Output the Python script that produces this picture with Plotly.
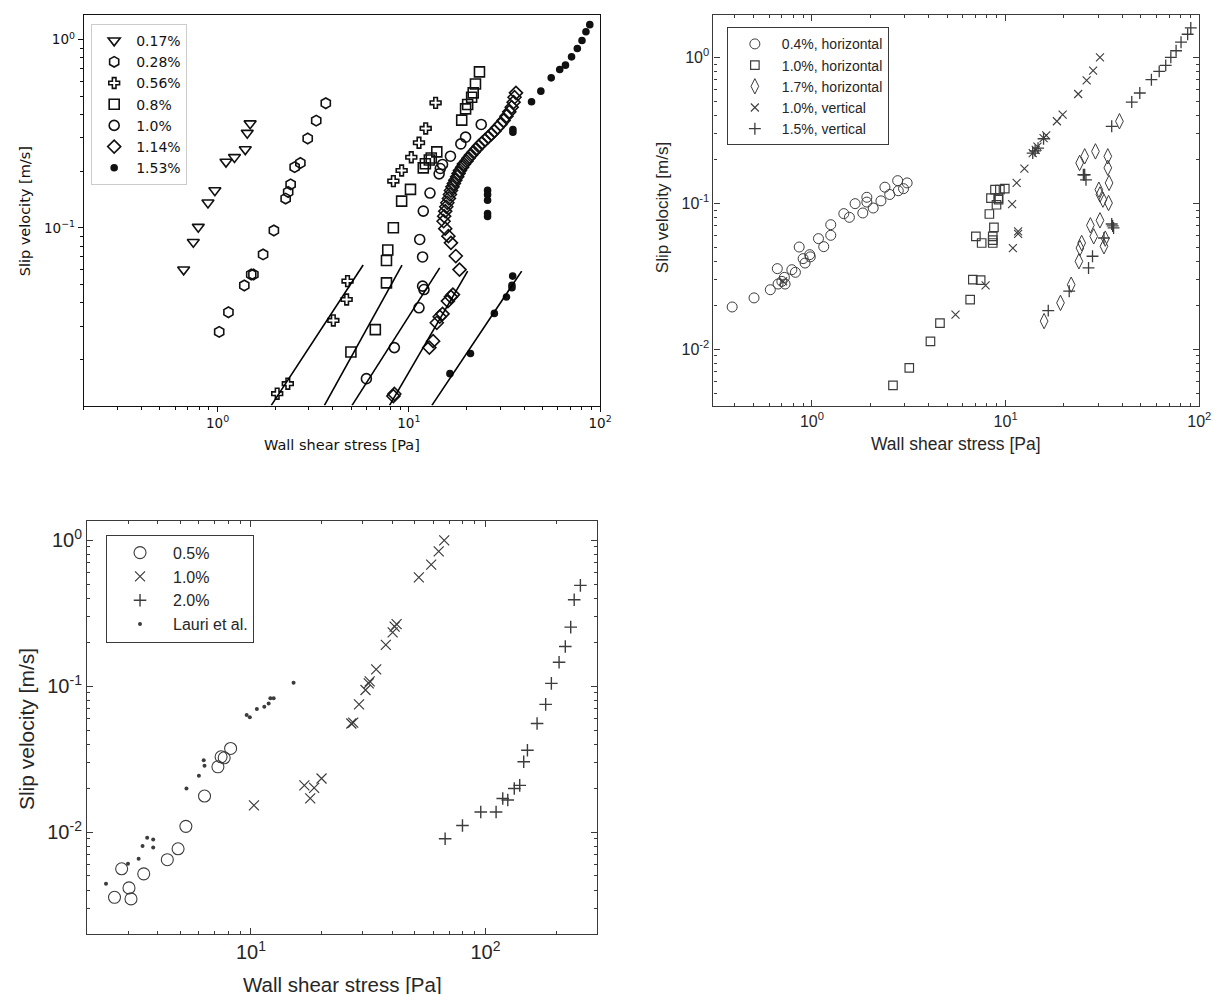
import math
import plotly.graph_objects as go

# ---------------- Panel 1 data (top-left) ----------------
p1_labels = ["0.17%", "0.28%", "0.56%", "0.8%", "1.0%", "1.14%", "1.53%"]

p1_x_017 = [0.665, 0.747, 0.793, 0.891, 0.968, 1.107, 1.226, 1.396, 1.43, 1.48]
p1_y_017 = [0.060, 0.084, 0.101, 0.136, 0.158, 0.224, 0.237, 0.261, 0.319, 0.358]

p1_x_028 = [1.02, 1.14, 1.38, 1.50, 1.54, 1.73, 1.97, 2.27, 2.34, 2.41, 2.53, 2.71, 2.96, 3.28, 3.68]
p1_y_028 = [0.028, 0.0356, 0.0494, 0.0565, 0.0565, 0.0722, 0.0968, 0.143, 0.155, 0.170, 0.210, 0.221, 0.298, 0.371, 0.459]

p1_x_056 = [2.05, 2.33, 4.03, 4.73, 4.78, 8.3, 9.17, 10.3, 11.3, 12.25, 13.8]
p1_y_056 = [0.01315, 0.01486, 0.0322, 0.0416, 0.0521, 0.177, 0.2015, 0.237, 0.283, 0.337, 0.461]

p1_x_08 = [4.98, 6.68, 7.64, 7.64, 7.76, 8.3, 9.17, 10.2, 11.9, 12.2, 12.8, 13.1, 14.0,
           18.9, 19.8, 20.3, 21.3, 21.7, 22.3, 23.4]
p1_y_08 = [0.0219, 0.0288, 0.051, 0.067, 0.0762, 0.100, 0.1386, 0.160, 0.208, 0.219, 0.229, 0.235, 0.253,
           0.373, 0.428, 0.452, 0.494, 0.521, 0.581, 0.673]

p1_x_10 = [6.0, 8.4, 11.3, 12.0, 11.8, 11.8, 11.4, 11.9, 12.9, 14.4, 14.6, 15.0, 16.5, 18.7, 19.8, 23.9]
p1_y_10 = [0.0158, 0.0231, 0.0376, 0.047, 0.049, 0.070, 0.0867, 0.1227, 0.153, 0.1935, 0.2065, 0.217, 0.240, 0.279, 0.303, 0.354]

p1_x_114 = [8.3, 8.4, 12.8, 13.4, 14.0, 14.5, 15.0, 16.0, 16.6, 17.0, 18.4, 17.6, 16.6, 16.1, 15.5,
            15.2, 15.3, 15.5, 15.7, 15.9, 16.2, 16.4, 16.6, 16.9, 17.2, 17.5, 17.9, 18.2, 18.5, 19.0,
            19.4, 20.0, 20.5, 21.1, 21.8, 22.5, 23.2, 24.1, 25.0, 26.0, 27.0, 28.0, 29.0, 30.1, 31.3,
            32.4, 33.5, 34.5, 35.3, 35.7, 36.3]
p1_y_114 = [0.01277, 0.0131, 0.0231, 0.025, 0.0313, 0.0337, 0.0349, 0.0408, 0.043, 0.0442, 0.060, 0.0708, 0.0832, 0.0903, 0.099,
            0.1084, 0.1153, 0.1226, 0.1293, 0.1358, 0.1432, 0.1503, 0.1578, 0.1651, 0.1719, 0.1791, 0.1866, 0.1943, 0.2015, 0.210,
            0.218, 0.226, 0.2344, 0.243, 0.2522, 0.2616, 0.2714, 0.2815, 0.292, 0.303, 0.3144, 0.326, 0.340, 0.354, 0.3715,
            0.3917, 0.413, 0.4375, 0.4648, 0.494, 0.521]

p1_x_153 = [16.4, 21.0, 28.0, 32.4, 34.6, 34.6, 34.9, 25.8, 25.8, 25.8, 25.8, 25.8, 35.0, 35.0,
            43.8, 49.0, 55.5, 61.5, 65.9, 70.9, 76.0, 80.4, 84.3, 88.3]
p1_y_153 = [0.0168, 0.0215, 0.0351, 0.0429, 0.048, 0.0495, 0.0554, 0.158, 0.150, 0.140, 0.119, 0.115, 0.333, 0.322,
            0.467, 0.532, 0.626, 0.693, 0.731, 0.809, 0.896, 0.988, 1.10, 1.20]

# fitted power-law lines (start / end points)
fit_x0 = [1.91, 3.62, 5.05, 7.93, 13.2]
fit_x1 = [5.77, 9.21, 14.5, 20.3, 38.9]
fit_y0 = [0.0114, 0.0114, 0.0114, 0.0114, 0.0114]
fit_y1 = [0.0634, 0.0634, 0.0613, 0.0589, 0.0589]

# ---------------- Panel 2 data (top-right) ----------------
p2_labels = ["0.4%, horizontal", "1.0%, horizontal", "1.7%, horizontal", "1.0%, vertical", "1.5%, vertical"]

p2_x_04h = [0.387, 0.502, 0.609, 0.662, 0.668, 0.699, 0.726, 0.72, 0.787, 0.821, 0.859, 0.900, 0.921, 0.973, 0.98,
            1.08, 1.15, 1.25, 1.25, 1.46, 1.56, 1.67, 1.83, 1.92, 1.92, 2.07, 2.27, 2.38, 2.52, 2.77, 2.79, 2.97, 3.10]
p2_y_04h = [0.0195, 0.0225, 0.0256, 0.0357, 0.028, 0.0292, 0.028, 0.0311, 0.0351, 0.0337, 0.0502, 0.0418, 0.039, 0.0445, 0.043,
            0.0573, 0.0505, 0.0714, 0.0604, 0.085, 0.0802, 0.0995, 0.0859, 0.110, 0.102, 0.0929, 0.104, 0.129, 0.115, 0.143, 0.122, 0.126, 0.138]

p2_x_10h = [2.62, 3.18, 4.09, 4.58, 6.56, 6.77, 7.43, 7.02, 7.52, 8.58, 8.58, 8.58, 8.7, 8.24, 8.97, 8.4, 8.81, 9.16, 9.34, 9.9, 9.2]
p2_y_10h = [0.00567, 0.00745, 0.01135, 0.0151, 0.0219, 0.030, 0.0298, 0.0594, 0.0535, 0.0594, 0.056, 0.0535, 0.0685, 0.0845, 0.0978, 0.1087, 0.124, 0.1087, 0.124, 0.126, 0.106]

p2_x_17h = [15.8, 19.2, 21.8, 23.9, 24.2, 24.7, 24.1, 25.6, 27.4, 28.5, 29.1, 30.3, 30.7, 30.7, 31.8, 32.2, 32.7, 33.7, 33.7, 34.2, 34.0, 38.7]
p2_y_17h = [0.0156, 0.0208, 0.0277, 0.0401, 0.0494, 0.0535, 0.189, 0.210, 0.0707, 0.0594, 0.227, 0.124, 0.115, 0.0765, 0.106, 0.0508, 0.0573, 0.210, 0.175, 0.138, 0.1005, 0.365]

p2_x_10v = [0.709, 5.51, 7.88, 10.9, 10.8, 11.6, 11.6, 11.4, 12.5, 13.8, 14.3, 14.6, 15.7, 16.2, 18.4, 19.7, 23.7, 26.2, 28.3, 30.7]
p2_y_10v = [0.0292, 0.0173, 0.0274, 0.0494, 0.0989, 0.0643, 0.0617, 0.138, 0.1726, 0.221, 0.232, 0.245, 0.280, 0.292, 0.365, 0.405, 0.561, 0.695, 0.811, 1.0]

p2_x_15v = [13.8, 14.2, 14.7, 15.7, 16.6, 21.3, 26.8, 28.1, 32.2, 25.6, 26.0, 25.2, 35.3, 36.1, 35.7, 35.3,
            44.8, 49.3, 56.6, 62.1, 67.1, 71.3, 75.9, 80.5, 87.1, 90.4]
p2_y_15v = [0.221, 0.229, 0.239, 0.277, 0.0184, 0.0250, 0.0361, 0.0434, 0.0579, 0.157, 0.145, 0.157, 0.0722, 0.0678, 0.070, 0.337,
            0.494, 0.570, 0.703, 0.802, 0.881, 1.0, 1.11, 1.27, 1.44, 1.59]

# ---------------- Panel 3 data (bottom-left) ----------------
p3_labels = ["0.5%", "1.0%", "2.0%", "Lauri et al."]

p3_x_05 = [2.62, 2.81, 3.02, 3.08, 3.49, 4.40, 4.89, 5.28, 6.34, 7.23, 7.46, 7.69, 8.19]
p3_y_05 = [0.00357, 0.0056, 0.00414, 0.00348, 0.00517, 0.00646, 0.00768, 0.01094, 0.01766, 0.0280, 0.0328, 0.0323, 0.0374]

p3_x_10 = [10.3, 16.9, 17.9, 18.6, 20.0, 26.8, 27.3, 28.9, 30.8, 31.8, 32.1, 34.2, 37.6, 40.2, 41.0, 41.8, 52.0, 58.7, 63.2, 66.7]
p3_y_10 = [0.01525, 0.0209, 0.0170, 0.0201, 0.0233, 0.0555, 0.0563, 0.0750, 0.0941, 0.1045, 0.108, 0.1305, 0.192, 0.234, 0.256, 0.266, 0.557, 0.681, 0.840, 1.0]

p3_x_20 = [67.3, 79.8, 95.5, 111, 118.5, 124.5, 132.7, 140, 145.6, 151, 166, 180.6, 191, 206, 219, 231, 239, 254]
p3_y_20 = [0.0090, 0.0111, 0.01371, 0.01371, 0.0170, 0.0166, 0.0199, 0.0209, 0.0303, 0.0364, 0.0555, 0.0750, 0.1045, 0.146, 0.187, 0.254, 0.391, 0.491]

p3_x_lauri = [2.41, 2.99, 3.32, 3.45, 3.61, 3.83, 3.83, 5.31, 6.00, 6.29, 6.34, 9.59, 9.89, 10.6, 11.4, 11.9, 12.1, 12.5, 15.2]
p3_y_lauri = [0.00442, 0.00606, 0.00656, 0.00802, 0.00915, 0.0089, 0.00782, 0.01986, 0.0243, 0.0311, 0.0285, 0.0634, 0.0613, 0.0697, 0.0723, 0.0762, 0.0825, 0.0825, 0.1057]

# tick labels
p1_xtickvals = [1, 10, 100]
p1_xticktext = ["10<sup>0</sup>", "10<sup>1</sup>", "10<sup>2</sup>"]
p1_ytickvals = [0.1, 1]
p1_yticktext = ["10<sup>\u22121</sup>", "10<sup>0</sup>"]
p2_xtickvals = [1, 10, 100]
p2_xticktext = ["10<sup>0</sup>", "10<sup>1</sup>", "10<sup>2</sup>"]
p2_ytickvals = [0.01, 0.1, 1]
p2_yticktext = ["10<sup>-2</sup>", "10<sup>-1</sup>", "10<sup>0</sup>"]
p3_xtickvals = [10, 100]
p3_xticktext = ["10<sup>1</sup>", "10<sup>2</sup>"]
p3_ytickvals = [0.01, 0.1, 1]
p3_yticktext = ["10<sup>-2</sup>", "10<sup>-1</sup>", "10<sup>0</sup>"]

# ---------------- figure ----------------
W, H = 1221, 994
fig = go.Figure()

def minor_vals(lo, hi):
    return [m * 10 ** e for e in range(lo, hi) for m in range(2, 10)]

K1 = "#111111"
p1_series = [
    (p1_x_017, p1_y_017, "triangle-down-open", 10.5),
    (p1_x_028, p1_y_028, "hexagon-open", 10.5),
    (p1_x_056, p1_y_056, "cross-open", 9),
    (p1_x_08, p1_y_08, "square-open", 10),
    (p1_x_10, p1_y_10, "circle-open", 10),
    (p1_x_114, p1_y_114, "diamond-open", 10),
    (p1_x_153, p1_y_153, "circle", 6),
]
for (xs, ys, sym, sz), lab in zip(p1_series, p1_labels):
    fig.add_trace(go.Scatter(x=xs, y=ys, mode="markers", name=lab, xaxis="x", yaxis="y", legend="legend",
                             marker=dict(symbol=sym, size=sz, color=K1, line=dict(color=K1, width=1.6))))
for a, b, c, d in zip(fit_x0, fit_x1, fit_y0, fit_y1):
    fig.add_trace(go.Scatter(x=[a, b], y=[c, d], mode="lines", showlegend=False, xaxis="x", yaxis="y",
                             line=dict(color="black", width=1.6)))

K2 = "#3c3c3c"
p2_series = [
    (p2_x_04h, p2_y_04h, "circle-open", 10, 1.0),
    (p2_x_10h, p2_y_10h, "square-open", 8.5, 1.2),
    (p2_x_17h, p2_y_17h, "diamond-tall-open", 11, 1.0),
    (p2_x_10v, p2_y_10v, "x-thin-open", 8, 1.1),
    (p2_x_15v, p2_y_15v, "cross-thin-open", 8.5, 1.3),
]
for (xs, ys, sym, sz, lw), lab in zip(p2_series, p2_labels):
    fig.add_trace(go.Scatter(x=xs, y=ys, mode="markers", name=lab, xaxis="x2", yaxis="y2", legend="legend2",
                             marker=dict(symbol=sym, size=sz, color=K2, line=dict(color=K2, width=lw))))

p3_series = [
    (p3_x_05, p3_y_05, "circle-open", 12, 1.1),
    (p3_x_10, p3_y_10, "x-thin-open", 10, 1.2),
    (p3_x_20, p3_y_20, "cross-thin-open", 9, 1.4),
    (p3_x_lauri, p3_y_lauri, "circle", 4, 0),
]
for (xs, ys, sym, sz, lw), lab in zip(p3_series, p3_labels):
    fig.add_trace(go.Scatter(x=xs, y=ys, mode="markers", name=lab, xaxis="x3", yaxis="y3", legend="legend3",
                             marker=dict(symbol=sym, size=sz, color=K2, line=dict(color=K2, width=lw))))

def px_dom(a, b):
    return [a / W, b / W]

def py_dom(top, bottom):
    return [1 - bottom / H, 1 - top / H]

mpl_font = dict(family="DejaVu Sans", size=13.5, color="#111111")
mat_font2 = dict(family="Liberation Sans, Arial", size=16, color="#262626")
mat_font3 = dict(family="Liberation Sans, Arial", size=20, color="#262626")

def mpl_axis(dom, rng, tv, tt, lo, hi, anchor):
    return dict(type="log", domain=dom, range=rng, anchor=anchor, showgrid=False, zeroline=False,
                showline=True, linecolor="#111111", linewidth=1.2, mirror=True,
                ticks="outside", ticklen=5, tickwidth=1.1, tickcolor="#111111",
                tickvals=tv, ticktext=tt, tickfont=mpl_font,
                minor=dict(tickvals=minor_vals(lo, hi), ticks="outside", ticklen=3, tickwidth=0.8, tickcolor="#111111"))

def mat_axis(dom, rng, tv, tt, lo, hi, anchor, font):
    return dict(type="log", domain=dom, range=rng, anchor=anchor, showgrid=False, zeroline=False,
                showline=True, linecolor="#3a3a3a", linewidth=1.1, mirror="ticks",
                ticks="inside", ticklen=6, tickwidth=1, tickcolor="#3a3a3a",
                tickvals=tv, ticktext=tt, tickfont=font,
                minor=dict(tickvals=minor_vals(lo, hi), ticks="inside", ticklen=3, tickwidth=0.8, tickcolor="#3a3a3a"))

fig.update_layout(
    width=W, height=H, margin=dict(l=0, r=0, t=0, b=0),
    paper_bgcolor="white", plot_bgcolor="white",
    xaxis=mpl_axis(px_dom(76.6, 598), [math.log10(0.2), 2], p1_xtickvals, p1_xticktext, -1, 2, "y"),
    yaxis=mpl_axis(py_dom(7, 397.5), [math.log10(0.01138), math.log10(1.35)], p1_ytickvals, p1_yticktext, -2, 1, "x"),
    xaxis2=mat_axis(px_dom(712.5, 1203.1), [math.log10(0.31), 2], p2_xtickvals, p2_xticktext, -1, 2, "y2", mat_font2),
    yaxis2=mat_axis(py_dom(6.7, 398.3), [math.log10(0.00407), math.log10(1.96)], p2_ytickvals, p2_yticktext, -3, 1, "x2", mat_font2),
    xaxis3=mat_axis(px_dom(79.8, 595.2), [math.log10(2), math.log10(300)], p3_xtickvals, p3_xticktext, 0, 3, "y3", mat_font3),
    yaxis3=mat_axis(py_dom(513.3, 926), [math.log10(0.002), math.log10(1.35)], p3_ytickvals, p3_yticktext, -3, 1, "x3", mat_font3),
    legend=dict(x=84 / W, y=1 - 16 / H, xanchor="left", yanchor="top", bgcolor="rgba(255,255,255,0.85)",
                bordercolor="#cccccc", borderwidth=1, font=dict(family="DejaVu Sans", size=14, color="#111111"),
                itemwidth=34),
    legend2=dict(x=726 / W, y=1 - 19.3 / H, xanchor="left", yanchor="top", bgcolor="white",
                 bordercolor="#3a3a3a", borderwidth=1, font=dict(family="Liberation Sans, Arial", size=14, color="#262626"),
                 itemwidth=44),
    legend3=dict(x=99 / W, y=1 - 526.7 / H, xanchor="left", yanchor="top", bgcolor="white",
                 bordercolor="#3a3a3a", borderwidth=1, font=dict(family="Liberation Sans, Arial", size=16, color="#262626"),
                 itemwidth=56),
    showlegend=True,
)

ann = [
    dict(text="Wall shear stress [Pa]", x=337.5 / W, y=1 - 437 / H, font=dict(family="DejaVu Sans", size=14.5, color="#111111"), textangle=0),
    dict(text="Slip velocity [m/s]", x=17.5 / W, y=1 - 203 / H, font=dict(family="DejaVu Sans", size=14.5, color="#111111"), textangle=-90),
    dict(text="Wall shear stress [Pa]", x=957.5 / W, y=1 - 436 / H, font=dict(family="Liberation Sans, Arial", size=17.5, color="#262626"), textangle=0),
    dict(text="Slip velocity [m/s]", x=660.7 / W, y=1 - 200 / H, font=dict(family="Liberation Sans, Arial", size=17, color="#262626"), textangle=-90),
    dict(text="Wall shear stress [Pa]", x=337.5 / W, y=1 - 976 / H, font=dict(family="Liberation Sans, Arial", size=20.5, color="#262626"), textangle=0),
    dict(text="Slip velocity [m/s]", x=18.3 / W, y=1 - 721 / H, font=dict(family="Liberation Sans, Arial", size=21, color="#262626"), textangle=-90),
]
for a in ann:
    fig.add_annotation(xref="paper", yref="paper", showarrow=False, xanchor="center", yanchor="middle", **a)

fig.write_html("out.html")
